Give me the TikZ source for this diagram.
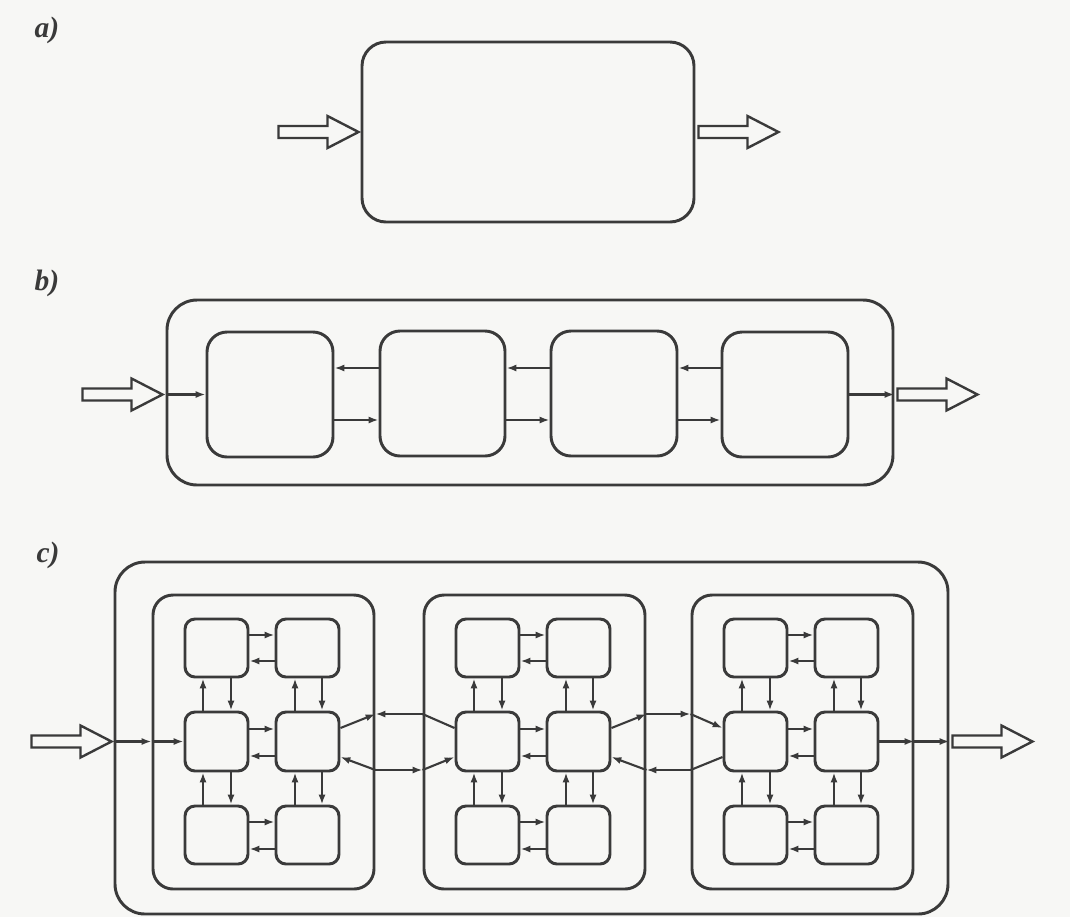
\documentclass[tikz,border=0pt]{standalone}
\usepackage{fontspec}
\setmainfont{Liberation Serif}
\usetikzlibrary{arrows.meta,fit,calc}
\definecolor{ink}{RGB}{58,58,58}
\definecolor{paper}{RGB}{247,247,245}
\tikzset{
  outerbox/.style={draw=ink,line width=2.1pt,rounded corners=0.75cm,inner sep=0pt},
  midbox/.style={draw=ink,line width=2.1pt,rounded corners=0.5cm,inner sep=0pt},
  smallbox/.style={draw=ink,line width=2.1pt,rounded corners=0.25cm,inner sep=0pt},
  abox/.style={draw=ink,line width=2.1pt,rounded corners=0.6cm,inner sep=0pt},
  arr/.style={draw=ink,line width=1.5pt,-{Latex[length=7pt,width=5pt]}},
  ln/.style={draw=ink,line width=1.5pt},
  hollow/.style={draw=ink,line width=1.7pt,fill=paper,line join=miter},
  lab/.style={font=\fontsize{21}{24}\selectfont\bfseries\itshape,text=ink,inner sep=0pt}
}
% hollow arrow starting (tail centre) at #1, pointing right
\newcommand\hollowR[1]{\draw[hollow] (#1) ++(0,-6) -- ++(49,0) -- ++(0,-10) -- ++(31,16) -- ++(-31,16) -- ++(0,-10) -- ++(-49,0) -- cycle;}
% horizontal arrow pair in row #2 of cluster #1
\newcommand\hpair[4]{%
  \draw[arr] (#1#21.east|-0,#3) -- (#1#22.west|-0,#3);
  \draw[arr] (#1#22.west|-0,#4) -- (#1#21.east|-0,#4);}
% vertical arrow pairs in column #2 of cluster #1
\newcommand\vpair[4]{%
  \draw[arr] (#12#2.north -| #3,0) -- (#11#2.south -| #3,0);
  \draw[arr] (#11#2.south -| #4,0) -- (#12#2.north -| #4,0);
  \draw[arr] (#13#2.north -| #3,0) -- (#12#2.south -| #3,0);
  \draw[arr] (#12#2.south -| #4,0) -- (#13#2.north -| #4,0);}
\newcommand\cluster[2]{%
  \node[midbox, fit={(#2,595)(#2+221,889)}] (#1) {};
  \node[smallbox, fit={(#2+32,619)(#2+95,677)}] (#111) {};
  \node[smallbox, fit={(#2+123,619)(#2+186,677)}] (#112) {};
  \node[smallbox, fit={(#2+32,712)(#2+95,771)}] (#121) {};
  \node[smallbox, fit={(#2+123,712)(#2+186,771)}] (#122) {};
  \node[smallbox, fit={(#2+32,806)(#2+95,864)}] (#131) {};
  \node[smallbox, fit={(#2+123,806)(#2+186,864)}] (#132) {};
  \hpair{#1}{1}{635}{661}
  \hpair{#1}{2}{729}{756}
  \hpair{#1}{3}{822}{849}
  \vpair{#1}{1}{#2+50}{#2+78}
  \vpair{#1}{2}{#2+142}{#2+169}}
\begin{document}
\begin{tikzpicture}[x=0.025cm,y=-0.025cm]
\path[fill=paper,use as bounding box] (0,0) rectangle (1070,917);

% ---------- a) ----------
\node[lab] (la) at (47,30) {a)};
\node[abox, fit={(362,42)(694,222)}] (a) {};
\hollowR{$(a.west)+(-82,0)$}
\hollowR{$(a.east)+(3,0)$}

% ---------- b) ----------
\node[lab] (lb) at (47,283) {b)};
\node[outerbox, fit={(167,300)(893,485)}] (b0) {};
\node[midbox, fit={(207,332)(333,457)}] (b1) {};
\node[midbox, fit={(380,331)(505,456)}] (b2) {};
\node[midbox, fit={(551,331)(677,456)}] (b3) {};
\node[midbox, fit={(722,332)(848,457)}] (b4) {};
\foreach \i/\j in {1/2,2/3,3/4}{
  \draw[arr] (b\j.west|-0,368) -- (b\i.east|-0,368);
  \draw[arr] (b\i.east|-0,420) -- (b\j.west|-0,420);
}
\coordinate (bin) at (b0.west|-b1.west);
\hollowR{$(bin)+(-83,0)$}
\draw[arr] (bin) -- (b1.west);
\coordinate (bout) at (b0.east|-b4.east);
\draw[arr] (b4.east) -- (bout);
\hollowR{$(bout)+(3,0)$}

% ---------- c) ----------
\node[lab] (lc) at (48,555) {c)};
\node[outerbox, fit={(115,562)(948,914)}] (co) {};
\cluster{A}{153}
\cluster{B}{424}
\cluster{C}{692}
% input
\coordinate (cin) at (co.west|-A21.west);
\hollowR{$(cin)+(-82,0)$}
\draw[arr] (cin) -- (A.west|-A21.west);
\draw[arr] (A.west|-A21.west) -- (A21.west);
% A <-> B
\draw[arr] (A22.east|-0,728) -- (A.east|-0,714);
\draw[arr] (B.west|-0,714) -- (A.east|-0,714);
\draw[ln]  (B.west|-0,714) -- (B21.west|-0,728);
\draw[arr] (A.east|-0,770) -- (A22.east|-0,757);
\draw[arr] (A.east|-0,770) -- (B.west|-0,770);
\draw[arr] (B.west|-0,770) -- (B21.west|-0,757);
% B <-> C
\draw[arr] (B22.east|-0,728) -- (B.east|-0,714);
\draw[arr] (B.east|-0,714) -- (C.west|-0,714);
\draw[arr] (C.west|-0,714) -- (C21.west|-0,728);
\draw[ln]  (C21.west|-0,757) -- (C.west|-0,770);
\draw[arr] (C.west|-0,770) -- (B.east|-0,770);
\draw[arr] (B.east|-0,770) -- (B22.east|-0,757);
% output
\draw[arr] (C22.east) -- (C.east|-C22.east);
\draw[arr] (C.east|-C22.east) -- (co.east|-C22.east);
\hollowR{$(co.east|-C22.east)+(3,0)$}
\end{tikzpicture}
\end{document}
